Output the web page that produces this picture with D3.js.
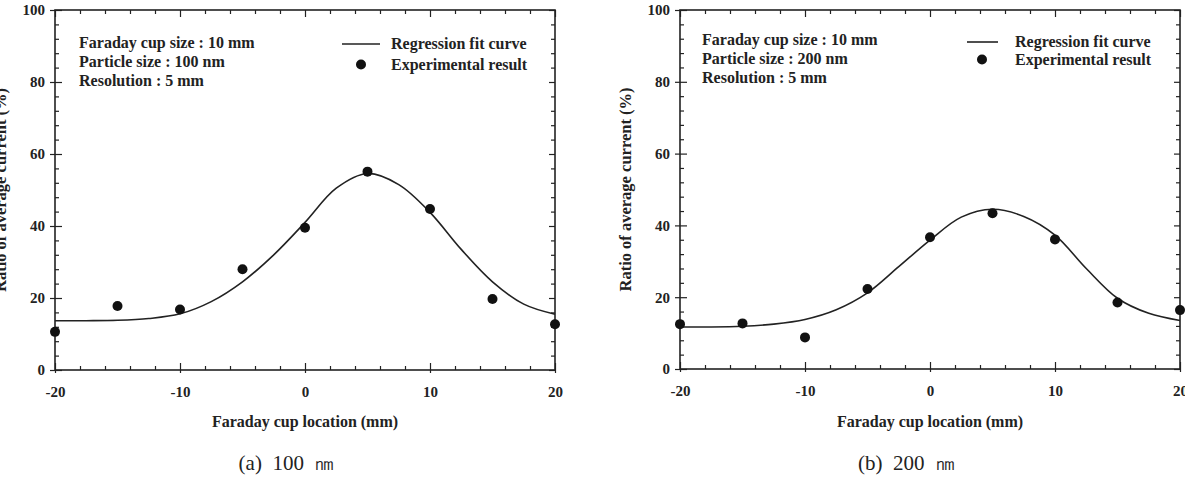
<!DOCTYPE html>
<html>
<head>
<meta charset="utf-8">
<script src="https://cdn.jsdelivr.net/npm/d3@7"></script>
<style>
  html, body { margin: 0; padding: 0; background: #fff; }
  svg { display: block; }
  text { font-family: "Liberation Serif", "Times New Roman", serif; fill: #222; }
</style>
</head>
<body>
<svg id="chart" width="1185" height="480"></svg>
<script>
// ---- data ----
const xPositions = [-20, -15, -10, -5, 0, 5, 10, 15, 20];
const expA = [10.6, 17.8, 16.8, 28.0, 39.5, 55.1, 44.7, 19.7, 12.7];
const expB = [12.5, 12.7, 8.8, 22.3, 36.7, 43.4, 36.1, 18.5, 16.4];
const fitX = [-20, -17.5, -15, -12.5, -10, -7.5, -5, -2.5, 0, 2.5, 5, 7.5, 10, 12.5, 15, 17.5, 20];
const fitA = [13.7, 13.7, 13.8, 14.3, 15.6, 19.0, 24.5, 32.0, 41.0, 50.5, 54.6, 51.5, 43.8, 33.5, 24.5, 18.3, 15.5];
const fitB = [11.7, 11.7, 11.9, 12.5, 13.8, 16.5, 21.2, 28.5, 35.9, 42.3, 44.5, 42.5, 37.3, 28.0, 19.7, 15.5, 13.5];
const xTickLabels = [-20, -10, 0, 10, 20];
const yTickLabels = [0, 20, 40, 60, 80, 100];
const infoA = ["Faraday cup size : 10 mm", "Particle size : 100 nm", "Resolution : 5 mm"];
const infoB = ["Faraday cup size : 10 mm", "Particle size : 200 nm", "Resolution : 5 mm"];
const legendLabels = ["Regression fit curve", "Experimental result"];
const captions = ["(a)\u00a0\u00a0100\u00a0\u00a0\u339a", "(b)\u00a0\u00a0200\u00a0\u00a0\u339a"];
const xTitle = "Faraday cup location (mm)";
const yTitle = "Ratio of average current (%)";

const svg = d3.select("#chart");
const ink = "#222";
const fmt = d => String(d);

function panel(cfg) {
  const x = d3.scaleLinear().domain([-20, 20]).range([cfg.x0, cfg.x1]);
  const y = d3.scaleLinear().domain([0, 100]).range([cfg.yBottom, cfg.yTop]);
  const g = svg.append("g");
  const xMinor = d3.range(-20, 20.01, 2).filter(v => !xTickLabels.includes(v));
  const yMinor = d3.range(0, 100.01, 4).filter(v => !yTickLabels.includes(v));

  function style(sel) {
    sel.select(".domain").remove();
    sel.selectAll(".tick line").attr("stroke", ink).attr("stroke-width", 1.2);
    sel.selectAll(".tick text")
      .attr("fill", ink).attr("font-size", 15).attr("font-weight", "bold")
      .attr("font-family", "'Liberation Serif', serif");
  }

  // bottom
  g.append("g").attr("transform", `translate(0,${cfg.yBottom})`)
    .call(d3.axisBottom(x).tickValues(xTickLabels).tickSizeInner(-7).tickSizeOuter(0).tickPadding(16).tickFormat(fmt))
    .call(style).call(s => s.selectAll(".tick line").attr("y1", 3));
  g.append("g").attr("transform", `translate(0,${cfg.yBottom})`)
    .call(d3.axisBottom(x).tickValues(xMinor).tickSize(-4).tickFormat(""))
    .call(style);
  // top
  g.append("g").attr("transform", `translate(0,${cfg.yTop})`)
    .call(d3.axisTop(x).tickValues(xTickLabels).tickSize(-7).tickFormat(""))
    .call(style);
  g.append("g").attr("transform", `translate(0,${cfg.yTop})`)
    .call(d3.axisTop(x).tickValues(xMinor).tickSize(-4).tickFormat(""))
    .call(style);
  // left
  g.append("g").attr("transform", `translate(${cfg.x0},0)`)
    .call(d3.axisLeft(y).tickValues(yTickLabels).tickSizeInner(-7).tickSizeOuter(0).tickPadding(10).tickFormat(fmt))
    .call(style).call(s => s.selectAll(".tick line").attr("x1", -5));
  g.append("g").attr("transform", `translate(${cfg.x0},0)`)
    .call(d3.axisLeft(y).tickValues(yMinor).tickSize(-4).tickFormat(""))
    .call(style);
  // right
  g.append("g").attr("transform", `translate(${cfg.x1},0)`)
    .call(d3.axisRight(y).tickValues(yTickLabels).tickSize(-6).tickFormat(""))
    .call(style);
  g.append("g").attr("transform", `translate(${cfg.x1},0)`)
    .call(d3.axisRight(y).tickValues(yMinor).tickSize(-4).tickFormat(""))
    .call(style);

  // frame
  g.append("rect")
    .attr("x", cfg.x0).attr("y", cfg.yTop)
    .attr("width", cfg.x1 - cfg.x0).attr("height", cfg.yBottom - cfg.yTop)
    .attr("fill", "none").attr("stroke", ink).attr("stroke-width", 1.6);

  // fit curve
  const line = d3.line().x((d, i) => x(fitX[i])).y(d => y(d)).curve(d3.curveCatmullRom.alpha(0.5));
  g.append("path").datum(cfg.fit).attr("d", line)
    .attr("fill", "none").attr("stroke", ink).attr("stroke-width", 1.6);

  // experimental points
  g.selectAll("circle.pt").data(cfg.exp).join("circle").attr("class", "pt")
    .attr("cx", (d, i) => x(xPositions[i])).attr("cy", d => y(d)).attr("r", 5)
    .attr("fill", "#111");

  // info text
  g.selectAll("text.info").data(cfg.info).join("text").attr("class", "info")
    .attr("x", cfg.infoX).attr("y", (d, i) => cfg.infoY + i * 19)
    .attr("font-size", 16).attr("font-weight", "bold").text(d => d);

  // legend
  g.append("line").attr("x1", cfg.legLine[0]).attr("x2", cfg.legLine[1])
    .attr("y1", cfg.legY1 - 5).attr("y2", cfg.legY1 - 5)
    .attr("stroke", ink).attr("stroke-width", 1.6);
  g.append("circle").attr("cx", cfg.legDot).attr("cy", cfg.legY2 - 5.5).attr("r", 5).attr("fill", "#111");
  g.selectAll("text.leg").data(legendLabels).join("text").attr("class", "leg")
    .attr("x", cfg.legTextX).attr("y", (d, i) => i === 0 ? cfg.legY1 : cfg.legY2)
    .attr("font-size", 16).attr("font-weight", "bold").text(d => d);

  // axis titles
  g.append("text").attr("x", (cfg.x0 + cfg.x1) / 2).attr("y", 427)
    .attr("text-anchor", "middle").attr("font-size", 16).attr("font-weight", "bold").text(xTitle);
  g.append("text")
    .attr("transform", `translate(${cfg.x0 - 49},${(cfg.yTop + cfg.yBottom) / 2}) rotate(-90)`)
    .attr("text-anchor", "middle").attr("font-size", 16.5).attr("font-weight", "bold").text(yTitle);

  // caption
  g.append("text").attr("x", cfg.capX).attr("y", 470)
    .attr("text-anchor", "middle").attr("font-size", 21)
    .attr("font-family", "'Liberation Serif', 'Noto Sans CJK KR', serif")
    .style("white-space", "pre").text(cfg.caption);
}

panel({
  x0: 55, x1: 555, yTop: 10, yBottom: 370,
  exp: expA, fit: fitA, info: infoA, infoX: 79, infoY: 48,
  legLine: [342, 380], legDot: 361, legTextX: 391, legY1: 49, legY2: 70,
  caption: captions[0], capX: 287
});
panel({
  x0: 680, x1: 1180, yTop: 10, yBottom: 369,
  exp: expB, fit: fitB, info: infoB, infoX: 702, infoY: 45,
  legLine: [967, 998], legDot: 982, legTextX: 1015, legY1: 47, legY2: 65,
  caption: captions[1], capX: 907
});
</script>
</body>
</html>
